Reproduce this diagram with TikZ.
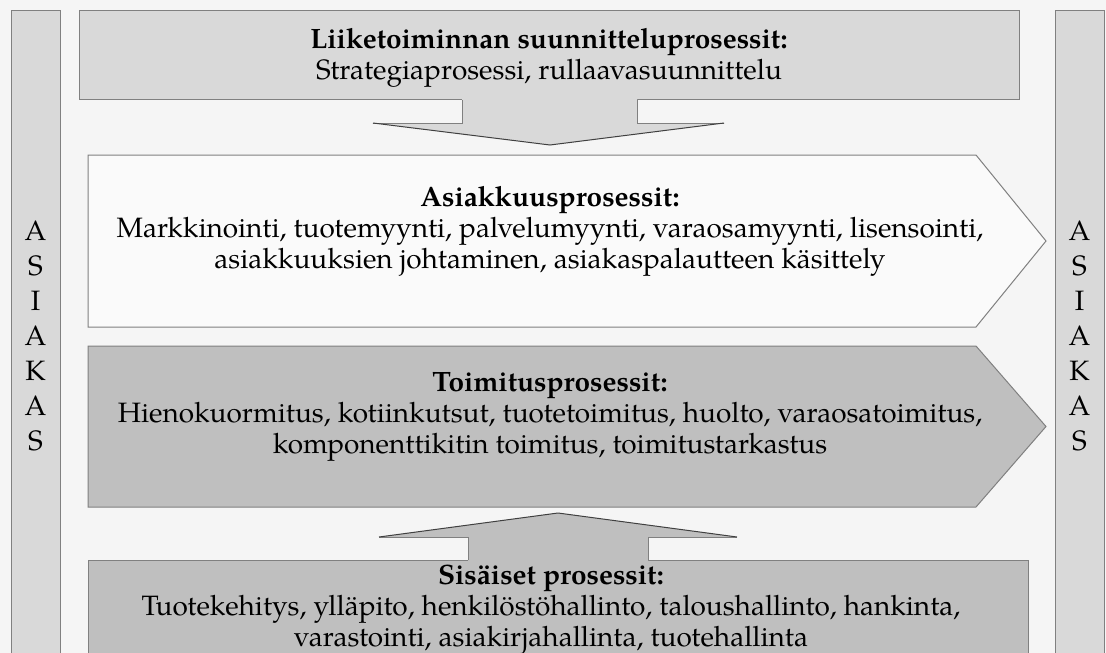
\documentclass[tikz,border=0pt]{standalone}
\usepackage{fontspec}
\setmainfont{TeX Gyre Pagella}
\begin{document}
\begin{tikzpicture}[x=1pt,y=-1pt,
  boxline/.style={draw=black!50, line width=1pt},
  lightfill/.style={fill=black!15},
  midfill/.style={fill=black!25},
  whitefill/.style={fill=black!2},
  label/.style={align=center, font=\fontsize{28}{31}\selectfont, inner sep=0pt},
  sidelabel/.style={align=center, font=\fontsize{28}{35}\selectfont, inner sep=0pt},
  tipline/.style={draw=black!75, line width=1pt}]
  % canvas
  \fill[black!4] (0,0) rectangle (1106,653);
  \useasboundingbox (0,0) rectangle (1106,653);
  \clip (0,0) rectangle (1106,653);

  % customer bars on both sides
  \path[boxline, lightfill] (11,10) rectangle (60,670);
  \path[boxline, lightfill] (1055,10) rectangle (1104,670);
  \node[sidelabel] (asiakasL) at (35.5,336) {A\\S\\I\\A\\K\\A\\S};
  \node[sidelabel] (asiakasR) at (1079.5,336) {A\\S\\I\\A\\K\\A\\S};

  % planning processes
  \path[boxline, lightfill] (79,10) rectangle (1019,99);
  \node[label] (suunnittelu) at (549,58)
    {\textbf{Liiketoiminnan suunnitteluprosessit:}\\Strategiaprosessi, rullaavasuunnittelu};

  % downward block arrow
  \fill[lightfill] (462,96) -- (462,123) -- (373,123) -- (550,145) -- (724,123) -- (637,123) -- (637,96) -- cycle;
  \draw[boxline] (462,100) -- (462,123) -- (373,123);
  \draw[boxline] (724,123) -- (637,123) -- (637,100);
  \draw[tipline] (373,123) -- (550,145) -- (724,123);

  % customer processes
  \path[boxline, whitefill] (88,155) -- (976,155) -- (1046,241) -- (976,327) -- (88,327) -- cycle;
  \node[label] (asiakkuus) at (550,231)
    {\textbf{Asiakkuusprosessit:}\\Markkinointi, tuotemyynti, palvelumyynti, varaosamyynti, lisensointi,\\asiakkuuksien johtaminen, asiakaspalautteen käsittely};

  % delivery processes
  \path[boxline, midfill] (88,346) -- (976,346) -- (1046,426.5) -- (976,507) -- (88,507) -- cycle;
  \node[label] (toimitus) at (550,417)
    {\textbf{Toimitusprosessit:}\\Hienokuormitus, kotiinkutsut, tuotetoimitus, huolto, varaosatoimitus,\\komponenttikitin toimitus, toimitustarkastus};

  % internal processes
  \path[boxline, midfill] (88,560) rectangle (1028,680);
  \node[label] (sisaiset) at (551,610)
    {\textbf{Sisäiset prosessit:}\\Tuotekehitys, ylläpito, henkilöstöhallinto, taloushallinto, hankinta,\\varastointi, asiakirjahallinta, tuotehallinta};

  % upward block arrow
  \fill[midfill] (468,563) -- (468,537) -- (379,537) -- (558,513) -- (737,537) -- (648,537) -- (648,563) -- cycle;
  \draw[boxline] (468,560) -- (468,537) -- (379,537);
  \draw[boxline] (737,537) -- (648,537) -- (648,560);
  \draw[tipline] (379,537) -- (558,513) -- (737,537);
\end{tikzpicture}
\end{document}
